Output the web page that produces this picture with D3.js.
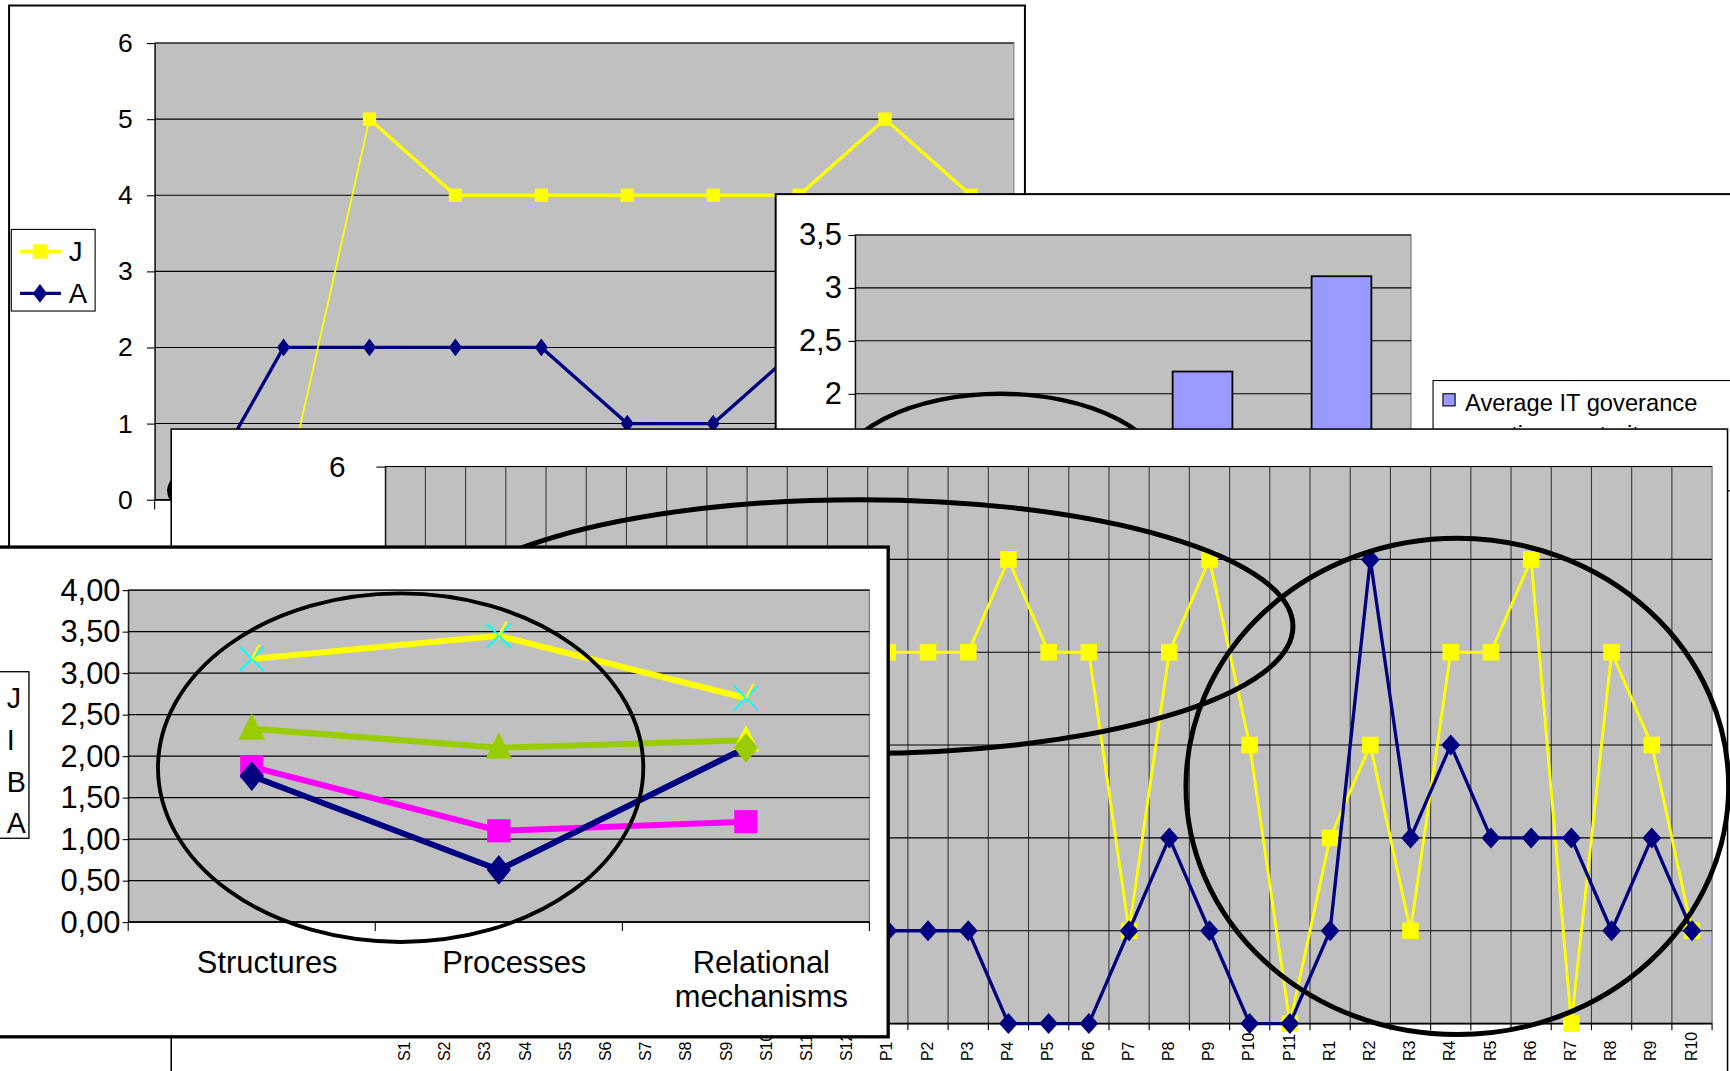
<!DOCTYPE html>
<html>
<head>
<meta charset="utf-8">
<script src="https://cdn.jsdelivr.net/npm/d3@7"></script>
<style>
  html, body { margin: 0; padding: 0; background: #fff; overflow: hidden; }
  svg { display: block; }
</style>
</head>
<body>
<svg id="chart" width="1730" height="1071" viewBox="0 0 1568 971"></svg>
<script>
// ---------- data ----------
// Chart 1: structure item scores, companies J and A
const itemsS10 = ["S1", "S2", "S3", "S4", "S5", "S6", "S7", "S8", "S9", "S10"];
const scoreJ_S = [0, 0, 5, 4, 4, 4, 4, 4, 5, 4];
const scoreA_S = [0, 2, 2, 2, 2, 1, 1, 2, 2, 1];
const ticks0to6 = [0, 1, 2, 3, 4, 5, 6];
const legendKeys1 = ["J", "A"];

// Chart 2: average IT governance practices maturity per company
const companies = ["A", "B", "I", "J"];
const avgMaturity = [1.50, 1.39, 2.21, 3.11];
const ticks0to35 = [0, 0.5, 1, 1.5, 2, 2.5, 3, 3.5];
const legendLines2 = ["Average IT goverance", "practices maturity"];

// Chart 3: every item (structures, processes, relational mechanisms)
const itemsAll = ["S1", "S2", "S3", "S4", "S5", "S6", "S7", "S8", "S9", "S10", "S11", "S12",
  "P1", "P2", "P3", "P4", "P5", "P6", "P7", "P8", "P9", "P10", "P11",
  "R1", "R2", "R3", "R4", "R5", "R6", "R7", "R8", "R9", "R10"];
const scoreJ_all = [0, 0, 5, 4, 4, 4, 4, 4, 5, 4, 4, 4,
  4, 4, 4, 5, 4, 4, 1, 4, 5, 3, 0,
  2, 3, 1, 4, 4, 5, 0, 4, 3, 1];
const scoreA_all = [0, 2, 2, 2, 2, 1, 1, 2, 2, 1, 1, 1,
  1, 1, 1, 0, 0, 0, 1, 2, 1, 0, 0,
  1, 5, 2, 3, 2, 2, 2, 1, 2, 1];

// Chart 4: average per governance dimension
const dimensions = ["Structures", "Processes", "Relational mechanisms"];
const dimJ = [3.17, 3.45, 2.70];
const dimI = [2.33, 2.10, 2.19];
const dimB = [1.87, 1.10, 1.21];
const dimA = [1.76, 0.63, 2.10];
const ticks0to4 = [0, 0.5, 1, 1.5, 2, 2.5, 3, 3.5, 4];
const legendKeys4 = ["J", "I", "B", "A"];

// ---------- helpers ----------
const FONT = '"Liberation Sans", Arial, Helvetica, sans-serif';
const PLOT_BG = "#C0C0C0";
const YELLOW = "#FFFF00", NAVY = "#000080", MAGENTA = "#FF00FF", GREEN = "#99CC00", CYAN = "#00FFFF", BAR = "#9999FF";

const svg = d3.select("#chart");

function frame(x, y, w, h, sw) {
  const g = svg.append("g");
  g.append("rect").attr("x", x).attr("y", y).attr("width", w).attr("height", h)
    .attr("fill", "#fff").attr("stroke", "#000").attr("stroke-width", sw);
  return g;
}
const commaFmt = f => d => f(d).replace(".", ",");
const diamond = (w, h) => `M0,${-h / 2}L${w / 2},0L0,${h / 2}L${-w / 2},0Z`;
const square = s => `M${-s / 2},${-s / 2}h${s}v${s}h${-s}Z`;
const triangle = (w, h) => `M0,${-h / 2}L${w / 2},${h / 2}L${-w / 2},${h / 2}Z`;

function styleAxis(ax, size) {
  ax.attr("font-family", FONT).attr("font-size", size);
  ax.selectAll("text").attr("fill", "#000");
  ax.selectAll("line").attr("stroke", "#000");
  ax.select(".domain").attr("stroke", "#000");
}
function hGrid(g, ticks, y, x0, x1, color, w) {
  g.append("g").selectAll("line").data(ticks).join("line")
    .attr("x1", x0).attr("x2", x1).attr("y1", d => y(d)).attr("y2", d => y(d))
    .attr("stroke", color).attr("stroke-width", w);
}
function ring(g, cx, cy, rx, ry, w) {
  g.append("ellipse").attr("cx", cx).attr("cy", cy).attr("rx", rx).attr("ry", ry)
    .attr("fill", "none").attr("stroke", "#000").attr("stroke-width", w);
}

// ---------- chart 1 (back) ----------
{
  const g = frame(8, 5, 921, 720, 1.8);
  const L = 140, R = 919, T = 39, B = 453;
  const x = d3.scaleBand().domain(itemsS10).range([L, R]);
  const cx = k => x(k) + x.bandwidth() / 2;
  const y = d3.scaleLinear().domain([0, 6]).range([B, T]);
  g.append("rect").attr("x", L).attr("y", T).attr("width", R - L).attr("height", B - T)
    .attr("fill", PLOT_BG).attr("stroke", "#808080");
  hGrid(g, ticks0to6, y, L, R, "#000", 1);
  const ay = g.append("g").attr("transform", `translate(${L},0)`)
    .call(d3.axisLeft(y).tickValues(ticks0to6).tickSize(7).tickSizeOuter(0).tickPadding(13).tickFormat(d3.format("d")));
  styleAxis(ay, 24);
  const ax = g.append("g").attr("transform", `translate(0,${B})`)
    .call(d3.axisBottom(x).tickSize(0).tickPadding(14));
  styleAxis(ax, 20);
  g.append("g").selectAll("line").data(itemsS10.concat([null])).join("line")
    .attr("x1", (d, i) => L + i * x.step()).attr("x2", (d, i) => L + i * x.step())
    .attr("y1", B).attr("y2", B + 9).attr("stroke", "#000");

  // ellipse marking the first items
  ring(g, 353, 445, 200, 50, 3.5);

  const pts = (vals) => vals.map((v, i) => [cx(itemsS10[i]), y(v)]);
  const line = d3.line();
  const pJ = pts(scoreJ_S), pA = pts(scoreA_S);
  g.append("path").attr("d", line(pA)).attr("fill", "none").attr("stroke", NAVY).attr("stroke-width", 3);
  g.append("g").selectAll("path").data(pA).join("path")
    .attr("transform", d => `translate(${d[0]},${d[1]})`).attr("d", diamond(12, 16)).attr("fill", NAVY);
  g.append("path").attr("d", line(pJ.slice(0, 3))).attr("fill", "none").attr("stroke", YELLOW).attr("stroke-width", 1.6);
  g.append("path").attr("d", line(pJ.slice(2))).attr("fill", "none").attr("stroke", YELLOW).attr("stroke-width", 3);
  g.append("g").selectAll("path").data(pJ).join("path")
    .attr("transform", d => `translate(${d[0]},${d[1]})`).attr("d", square(12)).attr("fill", YELLOW);

  // legend
  const lg = g.append("g");
  lg.append("rect").attr("x", 10).attr("y", 208).attr("width", 76).attr("height", 74)
    .attr("fill", "#fff").attr("stroke", "#000").attr("stroke-width", 1);
  const keyStyle = [{ c: YELLOW, m: square(13) }, { c: NAVY, m: diamond(13, 17) }];
  legendKeys1.forEach((k, i) => {
    const yy = 228 + i * 38;
    lg.append("line").attr("x1", 18).attr("x2", 55).attr("y1", yy).attr("y2", yy)
      .attr("stroke", keyStyle[i].c).attr("stroke-width", 3);
    lg.append("path").attr("transform", `translate(36,${yy})`).attr("d", keyStyle[i].m).attr("fill", keyStyle[i].c);
    lg.append("text").attr("x", 62).attr("y", yy + 9).attr("font-family", FONT).attr("font-size", 25).text(k);
  });
}

// ---------- chart 2 ----------
{
  const g = frame(703, 176, 950, 520, 1.8);
  const L = 775, R = 1279, T = 213, B = 549;
  const x = d3.scaleBand().domain(companies).range([L, R]).paddingInner(0.57).paddingOuter(0.285);
  const y = d3.scaleLinear().domain([0, 3.5]).range([B, T]);
  g.append("rect").attr("x", L).attr("y", T).attr("width", R - L).attr("height", B - T)
    .attr("fill", PLOT_BG).attr("stroke", "#808080").attr("stroke-width", 1.2);
  hGrid(g, ticks0to35, y, L, R, "#000", 1);
  const ay = g.append("g").attr("transform", `translate(${L},0)`)
    .call(d3.axisLeft(y).tickValues(ticks0to35).tickSize(6).tickSizeOuter(0).tickPadding(6)
      .tickFormat(commaFmt(d3.format("~g"))));
  styleAxis(ay, 28);
  const ax = g.append("g").attr("transform", `translate(0,${B})`)
    .call(d3.axisBottom(x).tickSize(0).tickPadding(14));
  styleAxis(ax, 24);
  g.append("g").selectAll("rect").data(companies).join("rect")
    .attr("x", d => x(d)).attr("width", x.bandwidth())
    .attr("y", (d, i) => y(avgMaturity[i])).attr("height", (d, i) => B - y(avgMaturity[i]))
    .attr("fill", BAR).attr("stroke", "#000").attr("stroke-width", 1.6);
  ring(g, 907, 435, 150, 78, 4);

  const lg = g.append("g");
  lg.append("rect").attr("x", 1299).attr("y", 345).attr("width", 320).attr("height", 100)
    .attr("fill", "#fff").attr("stroke", "#000").attr("stroke-width", 1);
  lg.append("rect").attr("x", 1308).attr("y", 357).attr("width", 11).attr("height", 11)
    .attr("fill", BAR).attr("stroke", "#000").attr("stroke-width", 1);
  legendLines2.forEach((t, i) => {
    lg.append("text").attr("x", 1328).attr("y", 373 + i * 29)
      .attr("font-family", FONT).attr("font-size", 21.5).text(t);
  });
}

// ---------- chart 3 ----------
{
  const g = frame(155, 389, 1411, 720, 1.4);
  const L = 349, R = 1552, T = 423, B = 928;
  const x = d3.scaleBand().domain(itemsAll).range([L, R]);
  const cx = k => x(k) + x.bandwidth() / 2;
  const y = d3.scaleLinear().domain([0, 6]).range([B, T]);
  g.append("rect").attr("x", L).attr("y", T).attr("width", R - L).attr("height", B - T)
    .attr("fill", PLOT_BG).attr("stroke", "#808080").attr("stroke-width", 1.2);
  // vertical grid at item boundaries
  g.append("g").selectAll("line").data(itemsAll.slice(1)).join("line")
    .attr("x1", d => x(d)).attr("x2", d => x(d)).attr("y1", T).attr("y2", B)
    .attr("stroke", "#3a3a3a").attr("stroke-width", 1);
  hGrid(g, ticks0to6, y, L, R, "#000", 1);
  const ay = g.append("g").attr("transform", `translate(${L},0)`)
    .call(d3.axisLeft(y).tickValues(ticks0to6).tickSize(8).tickSizeOuter(0).tickPadding(28).tickFormat(d3.format("d")));
  styleAxis(ay, 27);
  // category axis: ticks between items, labels read bottom-up
  g.append("line").attr("x1", L).attr("x2", R).attr("y1", B).attr("y2", B).attr("stroke", "#000").attr("stroke-width", 1.6);
  g.append("g").selectAll("line").data(itemsAll.concat([null])).join("line")
    .attr("x1", (d, i) => L + i * x.step()).attr("x2", (d, i) => L + i * x.step())
    .attr("y1", B).attr("y2", B + 6).attr("stroke", "#000");
  g.append("g").selectAll("text").data(itemsAll).join("text")
    .attr("transform", d => `translate(${cx(d) - 1},962) rotate(-90)`)
    .attr("dy", "0.36em").attr("text-anchor", "start")
    .attr("font-family", FONT).attr("font-size", 14.5).text(d => d);

  const pts = vals => vals.map((v, i) => [cx(itemsAll[i]), y(v)]);
  const line = d3.line();
  const pJ = pts(scoreJ_all), pA = pts(scoreA_all);
  g.append("path").attr("d", line(pJ)).attr("fill", "none").attr("stroke", YELLOW).attr("stroke-width", 2.6);
  g.append("g").selectAll("path").data(pJ).join("path")
    .attr("transform", d => `translate(${d[0]},${d[1]})`).attr("d", square(15)).attr("fill", YELLOW);
  g.append("path").attr("d", line(pA)).attr("fill", "none").attr("stroke", NAVY).attr("stroke-width", 3);
  g.append("g").selectAll("path").data(pA).join("path")
    .attr("transform", d => `translate(${d[0]},${d[1]})`).attr("d", diamond(17, 19)).attr("fill", NAVY);

  // highlighted groups
  ring(g, 780, 568, 392, 115, 4.5);
  ring(g, 1321, 713, 246, 225, 4.5);
}

// ---------- chart 4 (front) ----------
{
  const g = frame(-3, 496, 808, 444, 3);
  const L = 116, R = 788, T = 535, B = 836;
  const x = d3.scaleBand().domain(dimensions).range([L, R]);
  const cx = k => x(k) + x.bandwidth() / 2;
  const y = d3.scaleLinear().domain([0, 4]).range([B, T]);
  g.append("rect").attr("x", L).attr("y", T).attr("width", R - L).attr("height", B - T)
    .attr("fill", PLOT_BG).attr("stroke", "#808080").attr("stroke-width", 1.2);
  hGrid(g, ticks0to4, y, L, R, "#000", 1.2);
  const ay = g.append("g").attr("transform", `translate(${L},0)`)
    .call(d3.axisLeft(y).tickValues(ticks0to4).tickSize(5).tickSizeOuter(0).tickPadding(2)
      .tickFormat(commaFmt(d3.format(".2f"))));
  styleAxis(ay, 28);
  g.append("line").attr("x1", L).attr("x2", R).attr("y1", B).attr("y2", B).attr("stroke", "#000").attr("stroke-width", 1.4);
  g.append("g").selectAll("line").data(dimensions.concat([null])).join("line")
    .attr("x1", (d, i) => L + i * x.step()).attr("x2", (d, i) => L + i * x.step())
    .attr("y1", B).attr("y2", B + 8).attr("stroke", "#000");
  const lab = g.append("g").attr("font-family", FONT).attr("font-size", 28).attr("text-anchor", "middle");
  dimensions.forEach(d => {
    const words = d.split(" ");
    words.forEach((w, j) => {
      lab.append("text").attr("x", cx(d) + 14).attr("y", 882 + j * 31).text(w);
    });
  });

  const pts = vals => vals.map((v, i) => [cx(dimensions[i]), y(v)]);
  const line = d3.line();
  const draw = (vals, color) => {
    g.append("path").attr("d", line(pts(vals))).attr("fill", "none").attr("stroke", color).attr("stroke-width", 5.5);
    return pts(vals);
  };
  // J: crosses
  const pJ = draw(dimJ, YELLOW);
  pJ.forEach(p => {
    const c = g.append("g").attr("transform", `translate(${p[0]},${p[1]})`).attr("fill", "none");
    c.append("path").attr("d", "M-11,-11L11,11M-11,11L11,-11").attr("stroke", CYAN).attr("stroke-width", 1.8);
    c.append("path").attr("d", "M0,0L7,-13").attr("stroke", YELLOW).attr("stroke-width", 2);
  });
  // I: triangles
  const pI = draw(dimI, GREEN);
  g.append("g").selectAll("path").data(pI).join("path")
    .attr("transform", d => `translate(${d[0]},${d[1] - 2})`).attr("d", triangle(24, 24))
    .attr("fill", (d, i) => i === pI.length - 1 ? YELLOW : GREEN);
  // B: squares
  const pB = draw(dimB, MAGENTA);
  g.append("g").selectAll("path").data(pB).join("path")
    .attr("transform", d => `translate(${d[0]},${d[1]})`).attr("d", square(21)).attr("fill", MAGENTA);
  // A: diamonds
  const pA = draw(dimA, NAVY);
  g.append("g").selectAll("path").data(pA).join("path")
    .attr("transform", d => `translate(${d[0]},${d[1]})`).attr("d", diamond(22, 27))
    .attr("fill", (d, i) => i === pA.length - 1 ? GREEN : NAVY);

  ring(g, 363, 696, 220, 158, 3.5);

  // legend
  const lg = g.append("g");
  lg.append("rect").attr("x", -30).attr("y", 609).attr("width", 56).attr("height", 151)
    .attr("fill", "#fff").attr("stroke", "#000").attr("stroke-width", 1.2);
  legendKeys4.forEach((k, i) => {
    lg.append("text").attr("x", 6).attr("y", 642 + i * 37.8)
      .attr("font-family", FONT).attr("font-size", 26).text(k);
  });
}
</script>
</body>
</html>
